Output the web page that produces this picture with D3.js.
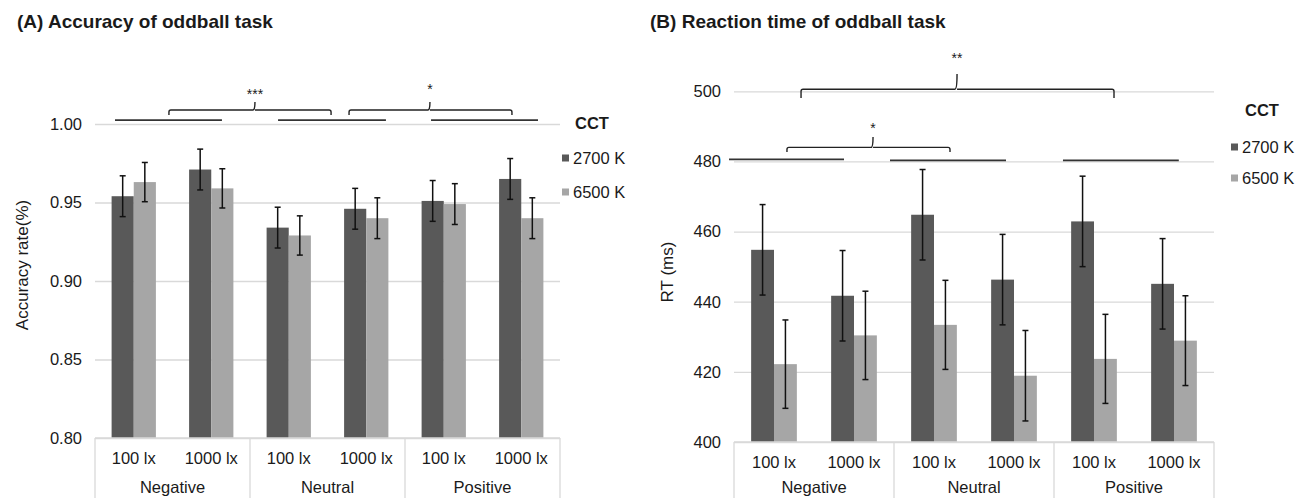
<!DOCTYPE html>
<html><head><meta charset="utf-8">
<script src="https://cdn.jsdelivr.net/npm/d3@7"></script>
<style>
body{margin:0;background:#fff}
svg{display:block}
text{font-family:"Liberation Sans",Arial,Helvetica,sans-serif;fill:#1a1a1a}
</style>
</head><body>
<svg id="chart" width="1296" height="498"></svg>
<script>
// ---------- data ----------
const emotions = ["Negative", "Neutral", "Positive"];
const illuminance = ["100 lx", "1000 lx", "100 lx", "1000 lx", "100 lx", "1000 lx"];
const cctSeries = ["2700 K", "6500 K"];

const accTicks = [0.80, 0.85, 0.90, 0.95, 1.00];
const acc2700 = [0.954, 0.971, 0.934, 0.946, 0.951, 0.965];
const acc6500 = [0.963, 0.959, 0.929, 0.940, 0.949, 0.940];
const accErr2700 = [0.013, 0.013, 0.013, 0.013, 0.013, 0.013];
const accErr6500 = [0.0125, 0.0125, 0.0125, 0.013, 0.013, 0.013];

const rtTicks = [400, 420, 440, 460, 480, 500];
const rt2700 = [454.8, 441.7, 464.8, 446.3, 462.9, 445.1];
const rt6500 = [422.2, 430.4, 433.4, 418.9, 423.7, 428.9];
const rtErr2700 = [12.9, 12.9, 12.9, 12.9, 12.9, 12.9];
const rtErr6500 = [12.6, 12.6, 12.7, 12.9, 12.7, 12.8];

// significance annotations (x in emotion-category units 0..3, y in data units)
const accGroupLines = [[0.129, 0.819, 1.0025], [1.181, 1.877, 1.0025], [2.168, 2.858, 1.0025]];
const accBraces = [
  {x0: 0.477, x1: 1.523, xc: 1.032, y: 1.0089, yEnd: 1.0057, yTop: 1.0140, ty: 1.0190, label: "***"},
  {x0: 1.639, x1: 2.690, xc: 2.161, y: 1.0089, yEnd: 1.0057, yTop: 1.0140, ty: 1.0222, label: "*"}
];
const rtGroupLines = [[-0.031, 0.6875, 480.6], [0.975, 1.70, 480.3], [2.056, 2.78, 480.3]];
const rtBraces = [
  {x0: 0.331, x1: 1.35, xc: 0.869, y: 484.0, yEnd: 482.7, yTop: 487.0, ty: 489.6, label: "*"},
  {x0: 0.419, x1: 2.375, xc: 1.394, y: 500.6, yEnd: 498.1, yTop: 504.9, ty: 509.6, label: "**"}
];

// ---------- drawing ----------
const svg = d3.select("#chart");
svg.append("rect").attr("width", 1296).attr("height", 498).attr("fill", "#fff");
const colors = ["#595959", "#a6a6a6"];
const gridColor = "#d9d9d9";

function drawPanel(cfg) {
  const g = svg.append("g");
  const n = cfg.v1.length;
  const x0 = d3.scaleBand().domain(d3.range(n)).range([cfg.left, cfg.right]).paddingInner(0).paddingOuter(0);
  const x1 = d3.scaleBand().domain([0, 1]).range([0, x0.bandwidth()]).paddingInner(0).paddingOuter(0.75);
  const xc = d3.scaleLinear().domain([0, emotions.length]).range([cfg.left, cfg.right]);
  const y = d3.scaleLinear().domain(cfg.domain).range([cfg.bottom, cfg.top]);

  // title
  g.append("text").attr("x", cfg.titleX).attr("y", 28)
    .attr("font-size", 19).attr("font-weight", "bold").text(cfg.title);

  // y axis with gridlines
  const ax = g.append("g").attr("transform", `translate(${cfg.left},0)`)
    .call(d3.axisLeft(y).tickValues(cfg.ticks).tickFormat(cfg.fmt)
      .tickSizeInner(-(cfg.right - cfg.left)).tickSizeOuter(0).tickPadding(13));
  ax.select(".domain").remove();
  ax.selectAll(".tick line").attr("stroke", gridColor).attr("stroke-width", 1.3);
  ax.selectAll(".tick text").attr("font-size", 16.5).attr("fill", "#333")
    .attr("font-family", '"Liberation Sans",Arial,sans-serif');

  // y-axis title
  g.append("text")
    .attr("transform", `translate(${cfg.yTitleX},${cfg.yTitleY}) rotate(-90)`)
    .attr("text-anchor", "middle").attr("dominant-baseline", "central")
    .attr("font-size", 17).attr("fill", "#333").text(cfg.yTitle);

  // bars
  const series = [cfg.v1, cfg.v2];
  const errs = [cfg.e1, cfg.e2];
  series.forEach((vals, s) => {
    g.append("g").selectAll("rect").data(vals).join("rect")
      .attr("x", (d, i) => x0(i) + x1(s))
      .attr("width", x1.bandwidth())
      .attr("y", d => y(d))
      .attr("height", d => y(cfg.domain[0]) - y(d))
      .attr("fill", colors[s]);
  });
  // error bars
  series.forEach((vals, s) => {
    const eg = g.append("g").attr("stroke", "#111").attr("stroke-width", 1.5).attr("fill", "none");
    vals.forEach((v, i) => {
      const cx = x0(i) + x1(s) + x1.bandwidth() / 2;
      const e = errs[s][i];
      eg.append("line").attr("x1", cx).attr("x2", cx).attr("y1", y(v - e)).attr("y2", y(v + e));
      [v - e, v + e].forEach(t => {
        eg.append("line").attr("x1", cx - 3).attr("x2", cx + 3).attr("y1", y(t)).attr("y2", y(t));
      });
    });
  });

  // category axis (two levels)
  const yb = y(cfg.domain[0]);
  g.append("line").attr("x1", cfg.left).attr("x2", cfg.right).attr("y1", yb).attr("y2", yb)
    .attr("stroke", gridColor).attr("stroke-width", 1.3);
  d3.range(emotions.length + 1).forEach(k => {
    g.append("line").attr("x1", xc(k)).attr("x2", xc(k)).attr("y1", yb).attr("y2", 498)
      .attr("stroke", gridColor).attr("stroke-width", 1.3);
  });
  g.append("g").selectAll("text").data(illuminance).join("text")
    .attr("x", (d, i) => x0(i) + x0.bandwidth() / 2).attr("y", yb + 20)
    .attr("text-anchor", "middle").attr("dominant-baseline", "central")
    .attr("font-size", 16.5).attr("fill", "#333").text(d => d);
  g.append("g").selectAll("text").data(emotions).join("text")
    .attr("x", (d, i) => xc(i + 0.5)).attr("y", cfg.emoY)
    .attr("text-anchor", "middle").attr("dominant-baseline", "central")
    .attr("font-size", 16.5).attr("fill", "#333").text(d => d);

  // significance annotations
  const ag = g.append("g").attr("fill", "none");
  cfg.lines.forEach(l => {
    ag.append("line").attr("x1", xc(l[0])).attr("x2", xc(l[1])).attr("y1", y(l[2])).attr("y2", y(l[2]))
      .attr("stroke", "#333").attr("stroke-width", 1.8);
  });
  cfg.braces.forEach(b => {
    const xa = xc(b.x0), xz = xc(b.x1), xm = xc(b.xc);
    const yy = y(b.y), ye = y(b.yEnd), yt = y(b.yTop);
    const p = d3.path();
    p.moveTo(xa, ye); p.lineTo(xa, yy + 2); p.quadraticCurveTo(xa, yy, xa + 2, yy);
    p.lineTo(xm - 2, yy); p.quadraticCurveTo(xm, yy, xm, yt);
    p.moveTo(xm, yy); p.quadraticCurveTo(xm, yy, xm + 2, yy);
    p.lineTo(xz - 2, yy); p.quadraticCurveTo(xz, yy, xz, yy + 2); p.lineTo(xz, ye);
    ag.append("path").attr("d", p.toString()).attr("stroke", "#222").attr("stroke-width", 1.4);
    g.append("text").attr("x", xm).attr("y", y(b.ty)).attr("text-anchor", "middle")
      .attr("dominant-baseline", "central").attr("font-size", 14).attr("fill", "#222").text(b.label);
  });

  // legend
  const lg = g.append("g");
  lg.append("text").attr("x", cfg.legCctX).attr("y", cfg.legY[0]).attr("dominant-baseline", "central")
    .attr("font-size", 16.5).attr("font-weight", "bold").text("CCT");
  cctSeries.forEach((name, s) => {
    lg.append("rect").attr("x", cfg.legSwX).attr("y", cfg.legY[s + 1] - 3.5).attr("width", 7).attr("height", 7)
      .attr("fill", colors[s]);
    lg.append("text").attr("x", cfg.legSwX + 11).attr("y", cfg.legY[s + 1]).attr("dominant-baseline", "central")
      .attr("font-size", 16.5).attr("fill", "#333").text(name);
  });
}

drawPanel({
  title: "(A) Accuracy of oddball task", titleX: 17,
  left: 95, right: 560, top: 124, bottom: 438, domain: [0.80, 1.00],
  ticks: accTicks, fmt: d3.format(".2f"),
  yTitle: "Accuracy rate(%)", yTitleX: 22, yTitleY: 265,
  v1: acc2700, v2: acc6500, e1: accErr2700, e2: accErr6500,
  lines: accGroupLines, braces: accBraces, emoY: 487,
  legCctX: 575, legSwX: 562, legY: [123, 158, 192]
});
drawPanel({
  title: "(B) Reaction time of oddball task", titleX: 650,
  left: 734, right: 1214, top: 91.3, bottom: 442, domain: [400, 500],
  ticks: rtTicks, fmt: d3.format("d"),
  yTitle: "RT (ms)", yTitleX: 667, yTitleY: 272,
  v1: rt2700, v2: rt6500, e1: rtErr2700, e2: rtErr6500,
  lines: rtGroupLines, braces: rtBraces, emoY: 487,
  legCctX: 1245, legSwX: 1231, legY: [110, 147, 178]
});
</script>
</body></html>
